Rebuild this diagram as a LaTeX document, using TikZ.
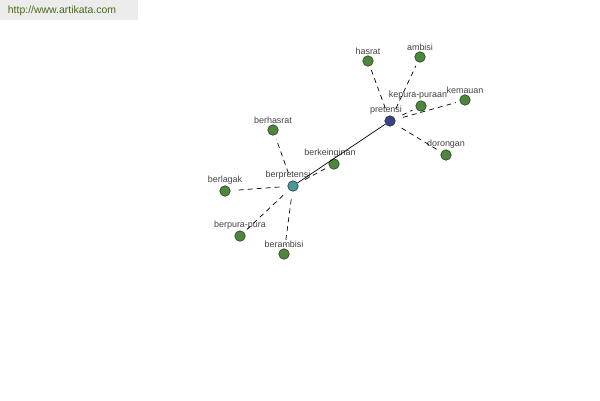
\documentclass[tikz,border=0pt]{standalone}
\usepackage{fontspec}
\setmainfont{Liberation Sans}
\usepackage{tikz}
\usetikzlibrary{arrows}

\definecolor{leafgreen}{RGB}{78,134,62}
\definecolor{leafline}{RGB}{38,66,36}
\definecolor{hubblue}{RGB}{58,64,138}
\definecolor{hubteal}{RGB}{72,150,158}
\definecolor{wmgray}{RGB}{236,236,236}
\definecolor{wmtext}{RGB}{74,104,26}
\definecolor{lbltext}{RGB}{68,68,68}

\begin{document}
\begin{tikzpicture}[x=1bp,y=-1bp,
	word/.style={circle,draw=leafline,fill=leafgreen,minimum size=10.5bp,inner sep=0pt,line width=0.6bp},
	hub/.style={word,fill=#1},
	lbl/.style={text=lbltext,font=\fontsize{9}{10}\selectfont,inner sep=0.5bp,label distance=0.5bp},
	link/.style={line width=0.7bp,dash pattern=on 5bp off 4bp,shorten <=8bp,shorten >=4bp}]
		\useasboundingbox (0,0) rectangle (600,400);
		\fill[white] (0,0) rectangle (600,400);
		\fill[wmgray] (0,0) rectangle (138,20);
		\node[text=wmtext,font=\fontsize{10.5}{11}\selectfont] (site) at (62,11) {http://www.artikata.com};
		% central words
		\node[hub=hubblue,label={[lbl,xshift=-4bp]above:pretensi}] (pretensi) at (390,121) {};
		\node[hub=hubteal,label={[lbl,xshift=-5bp]above:berpretensi}] (berpretensi) at (293,186) {};
		% words round pretensi
		\node[word,label={[lbl]above:hasrat}] (hasrat) at (368,61) {};
		\node[word,label={[lbl]above:ambisi}] (ambisi) at (420,57) {};
		\node[word,label={[lbl,xshift=-3bp]above:kepura-puraan}] (kepura) at (421,106) {};
		\node[word,label={[lbl]above:kemauan}] (kemauan) at (465,100) {};
		\node[word,label={[lbl]above:dorongan}] (dorongan) at (446,155) {};
		% words round berpretensi
		\node[word,label={[lbl,xshift=-4bp]above:berkeinginan}] (berkeinginan) at (334,164) {};
		\node[word,label={[lbl]above:berhasrat}] (berhasrat) at (273,130) {};
		\node[word,label={[lbl]above:berlagak}] (berlagak) at (225,191) {};
		\node[word,label={[lbl]above:berpura-pura}] (berpura) at (240,236) {};
		\node[word,label={[lbl]above:berambisi}] (berambisi) at (284,254) {};
		% links
		\draw[line width=0.7bp] (pretensi) -- (berpretensi);
		\draw[link] (pretensi) -- (hasrat);
		\draw[link] (pretensi) -- (ambisi);
		\draw[link] (pretensi) -- (kepura);
		\draw[link] (pretensi) -- (kemauan);
		\draw[link] (pretensi) -- (dorongan);
		\draw[link] (berpretensi) -- (berkeinginan);
		\draw[link] (berpretensi) -- (berhasrat);
		\draw[link] (berpretensi) -- (berlagak);
		\draw[link] (berpretensi) -- (berpura);
		\draw[link] (berpretensi) -- (berambisi);
\end{tikzpicture}
\end{document}
